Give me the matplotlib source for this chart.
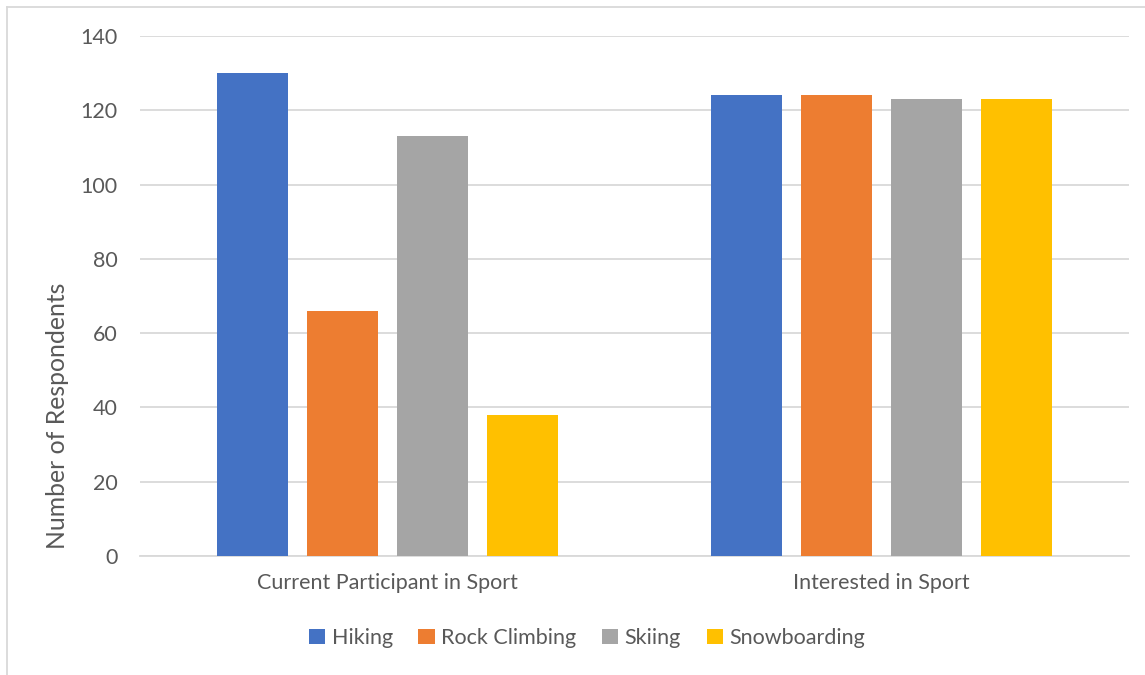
import matplotlib.pyplot as plt
from matplotlib.lines import Line2D
import numpy as np

plt.rcParams['font.family'] = ['Lato', 'DejaVu Sans']

# data
categories = ['Current Participant in Sport', 'Interested in Sport']
sports = ['Hiking', 'Rock Climbing', 'Skiing', 'Snowboarding']
values = {
    'Hiking': [130, 124],
    'Rock Climbing': [66, 124],
    'Skiing': [113, 123],
    'Snowboarding': [38, 123],
}
colors = ['#4472C4', '#ED7D31', '#A5A5A5', '#FFC000']
text_color = '#595959'

fig = plt.figure(figsize=(11.45, 6.75), dpi=100)
ax = fig.add_axes([140 / 1145, 119 / 675, 989 / 1145, 520 / 675])

x = np.arange(len(categories))
step = 90 / 494.5
width = 71 / 494.5
for i, (sport, c) in enumerate(zip(sports, colors)):
    offset = (i - 1.5) * step
    ax.bar(x + offset, values[sport], width, color=c, label=sport, zorder=3)

ax.set_xlim(-0.5, 1.5)
ax.set_ylim(0, 140)
ax.set_yticks(range(0, 141, 20))
ax.set_xticks(x)
ax.set_xticklabels(categories)
ax.yaxis.grid(True, color='#D9D9D9', linewidth=1.3, zorder=0)
for s in ['top', 'right', 'left']:
    ax.spines[s].set_visible(False)
ax.spines['bottom'].set_color('#D9D9D9')
ax.spines['bottom'].set_linewidth(1.3)
ax.tick_params(axis='both', length=0, labelsize=15.5, colors=text_color)
ax.tick_params(axis='y', pad=16)
ax.tick_params(axis='x', pad=12)

# y label sits lower than the plot centre in the original
fig.text(58 / 1145, 1 - 416 / 675, 'Number of Respondents', rotation=90,
         ha='center', va='center', fontsize=17.8, color=text_color)

leg = fig.legend(loc='center', bbox_to_anchor=(587 / 1145, 1 - 638 / 675), ncol=4,
                 frameon=False, fontsize=15.5, handlelength=0.75, handleheight=0.75,
                 handletextpad=0.3, columnspacing=1.2)
for t in leg.get_texts():
    t.set_color(text_color)

# chart border
fig.add_artist(Line2D([7 / 1145, 7 / 1145], [0, 1 - 7 / 675], color='#D9D9D9', lw=1.3))
fig.add_artist(Line2D([7 / 1145, 1], [1 - 7 / 675, 1 - 7 / 675], color='#D9D9D9', lw=1.3))

fig.savefig('out.png', dpi=100)
